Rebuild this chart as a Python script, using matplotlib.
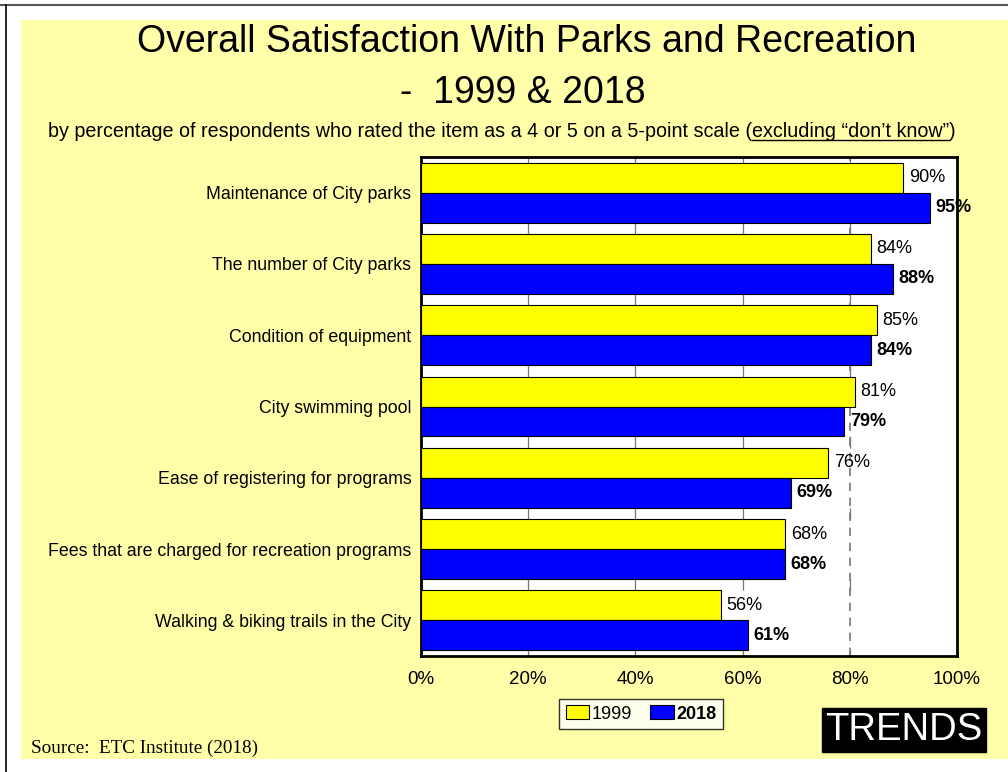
import numpy as np
import matplotlib.pyplot as plt
from matplotlib.patches import Rectangle, Patch
from matplotlib.lines import Line2D

plt.rcParams['font.family'] = ['Liberation Sans', 'DejaVu Sans']

categories = [
    'Maintenance of City parks',
    'The number of City parks',
    'Condition of equipment',
    'City swimming pool',
    'Ease of registering for programs',
    'Fees that are charged for recreation programs',
    'Walking & biking trails in the City',
]
pct_1999 = [90, 84, 85, 81, 76, 68, 56]
pct_2018 = [95, 88, 84, 79, 69, 68, 61]
xticks = [0, 20, 40, 60, 80, 100]

fig = plt.figure(figsize=(10.08, 7.72), dpi=100)
fig.patch.set_facecolor('white')

# page background and border lines
fig.add_artist(Rectangle((21 / 1008, 1 - 759 / 772), 987 / 1008, 739 / 772,
                         transform=fig.transFigure, facecolor='#FFFFAA',
                         edgecolor='none', zorder=0))
fig.add_artist(Line2D([0, 1], [1 - 5 / 772] * 2, transform=fig.transFigure,
                      color='#555555', lw=1.5))
fig.add_artist(Line2D([6 / 1008] * 2, [0, 1 - 5 / 772], transform=fig.transFigure,
                      color='black', lw=1.2))

fig.text(0.523, 1 - 42 / 772, 'Overall Satisfaction With Parks and Recreation',
         ha='center', va='center', fontsize=27)
fig.text(0.519, 1 - 93 / 772, '-  1999 & 2018', ha='center', va='center', fontsize=27)

# subtitle with underlined tail
sub_a = 'by percentage of respondents who rated the item as a 4 or 5 on a 5-point scale ('
sub_b = 'excluding \u201cdon\u2019t know\u201d'
sub_c = ')'
renderer = fig.canvas.get_renderer()
x0 = 48 / 1008
ys = 1 - 137 / 772
fs_sub = 14.25
ta = fig.text(x0, ys, sub_a, ha='left', va='baseline', fontsize=fs_sub)
wa = ta.get_window_extent(renderer).width / fig.bbox.width
tb = fig.text(x0 + wa, ys, sub_b, ha='left', va='baseline', fontsize=fs_sub)
wb = tb.get_window_extent(renderer).width / fig.bbox.width
fig.text(x0 + wa + wb, ys, sub_c, ha='left', va='baseline', fontsize=fs_sub)
fig.add_artist(Line2D([x0 + wa, x0 + wa + wb], [ys - 3 / 772] * 2,
                      transform=fig.transFigure, color='black', lw=1))

ax = fig.add_axes([421 / 1008, 1 - 656 / 772, 536 / 1008, 499 / 772])
ax.set_facecolor('white')

y = np.arange(len(categories))
h = 0.42
ax.barh(y - h / 2, pct_1999, height=h, color='#FFFF00', edgecolor='black',
        linewidth=0.8, zorder=3, label='1999')
ax.barh(y + h / 2, pct_2018, height=h, color='#0000FF', edgecolor='black',
        linewidth=0.8, zorder=3, label='2018')

for i in range(len(categories)):
    ax.text(pct_1999[i] + 1.0, y[i] - h / 2, f'{pct_1999[i]}%', va='center',
            ha='left', fontsize=13, zorder=5)
    ax.text(pct_2018[i] + 1.0, y[i] + h / 2, f'{pct_2018[i]}%', va='center',
            ha='left', fontsize=13, fontweight='bold', zorder=5)

# gridline pieces visible between the groups
for b in np.arange(-0.5, len(categories), 1.0):
    ax.vlines(xticks[1:-1], b - (0.5 - h) if b > -0.5 else -0.5,
              b + (0.5 - h) if b < len(categories) - 0.5 else b,
              color='#777777', lw=0.9, zorder=1)
ax.axvline(80, color='#777777', lw=1.2, ls=(0, (5, 4)), zorder=2)

ax.set_xlim(0, 100)
ax.set_ylim(len(categories) - 0.5, -0.5)
ax.set_xticks(xticks)
ax.set_xticklabels([f'{t}%' for t in xticks], fontsize=13.5)
ax.set_yticks(y)
ax.set_yticklabels(categories, fontsize=12.8)
ax.tick_params(length=0, pad=7)
ax.tick_params(axis='x', pad=11)
for s in ax.spines.values():
    s.set_linewidth(2)

handles = [Patch(facecolor='#FFFF00', edgecolor='black', lw=0.8),
           Patch(facecolor='#0000FF', edgecolor='black', lw=0.8)]
leg = fig.legend(handles, ['1999', '2018'], ncol=2, loc='center',
                 bbox_to_anchor=(641 / 1008, 1 - 714 / 772), fontsize=13,
                 frameon=True, fancybox=False, edgecolor='black',
                 handlelength=1.3, handleheight=0.8, handletextpad=0.15,
                 columnspacing=1.0, borderpad=0.35, borderaxespad=0)
leg.get_frame().set_linewidth(1)
leg.get_texts()[1].set_fontweight('bold')

fig.text(904 / 1008, 1 - 730 / 772, 'TRENDS', ha='center', va='center',
         fontsize=27.5, color='white',
         bbox=dict(boxstyle='square,pad=0.1', facecolor='black', edgecolor='black'))

fig.text(31 / 1008, 1 - 753 / 772, 'Source:  ETC Institute (2018)', ha='left',
         va='baseline', fontsize=13.8, family='Liberation Serif')

fig.savefig('out.png', dpi=100, facecolor=fig.get_facecolor())
